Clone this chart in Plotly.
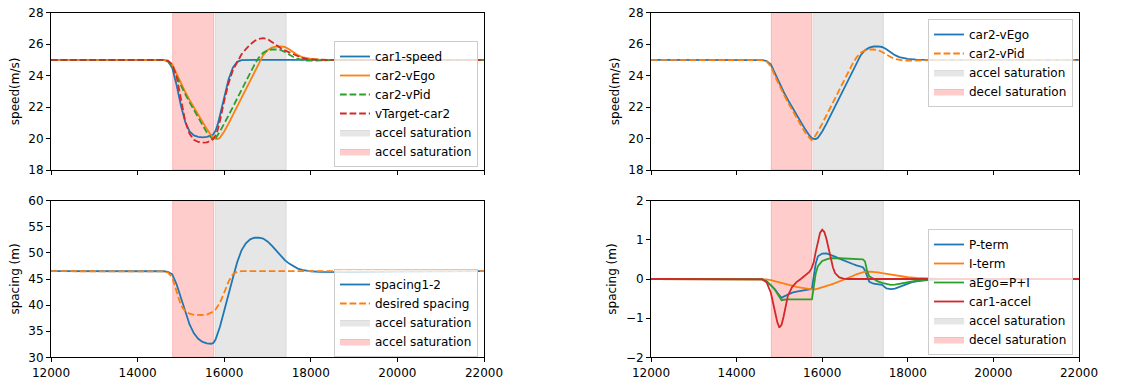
import plotly.graph_objects as go

# ---------------- data ----------------
T_RANGE = [12000, 22000]
X_TICKS = [12000, 14000, 16000, 18000, 20000, 22000]
X_TICK_LABELS = ["12000", "14000", "16000", "18000", "20000", "22000"]
SPEED_TICKS = [18, 20, 22, 24, 26, 28]
SPACING_TICKS = [30, 35, 40, 45, 50, 55, 60]
ACCEL_TICKS = [-2, -1, 0, 1, 2]
SPEED_RANGE = [18, 28]
SPACING_RANGE = [30, 60]
ACCEL_RANGE = [-2, 2]

DECEL_BAND = [14810, 15760]   # red shaded span
ACCEL_BAND = [15800, 17430]   # grey shaded span

# common time grid for speed / spacing series
t = [12000, 14000, 14400, 14500, 14600, 14700, 14800, 14900,
     15000, 15100, 15200, 15300, 15400, 15500, 15600, 15700, 15750, 15800, 15850, 15900,
     16000, 16100, 16200, 16300, 16400, 16500, 16600, 16700, 16800, 16900,
     17000, 17100, 17200, 17300, 17400, 17500, 17600, 17700, 17800, 17900,
     18000, 18200, 18400, 18600, 19000, 20000, 22000]

car1_speed = [25, 25, 25, 25, 25, 24.92, 24.5, 23.4,
              22.1, 21.05, 20.45, 20.2, 20.1, 20.08, 20.1, 20.18, 20.27, 20.5, 20.9, 21.45,
              22.65, 23.75, 24.5, 24.88, 24.98, 25, 25, 25, 25, 25,
              25, 25, 25, 25, 25, 25, 25, 25, 25, 25,
              25, 25, 25, 25, 25, 25, 25]

car2_vEgo = [25, 25, 25, 25, 24.99, 24.93, 24.72, 24.12,
             23.5, 22.96, 22.45, 21.98, 21.5, 21.05, 20.6, 20.2, 20.05, 19.98, 19.97, 20.05,
             20.45, 20.95, 21.5, 22.05, 22.6, 23.15, 23.7, 24.25, 24.8, 25.3,
             25.62, 25.78, 25.85, 25.86, 25.82, 25.68, 25.48, 25.3, 25.18, 25.1,
             25.06, 25.02, 25.0, 25, 25, 25, 25]

car2_vPid = [25, 25, 25, 25, 24.98, 24.9, 24.6, 23.95,
             23.35, 22.82, 22.3, 21.8, 21.3, 20.82, 20.38, 20.05, 19.9, 20.0, 20.2, 20.45,
             20.95, 21.45, 22.0, 22.55, 23.1, 23.65, 24.2, 24.7, 25.15, 25.45,
             25.6, 25.66, 25.66, 25.63, 25.5, 25.33, 25.18, 25.06, 24.99, 24.96,
             24.95, 24.95, 24.97, 24.99, 25, 25, 25]

vTarget_car2 = [25, 25, 25, 25, 25, 24.95, 24.72, 23.95,
                22.45, 21.1, 20.3, 19.92, 19.78, 19.74, 19.76, 19.88, 20.0, 20.2, 20.55, 21.1,
                22.4, 23.5, 24.35, 24.9, 25.35, 25.68, 25.98, 26.2, 26.33, 26.38,
                26.32, 26.14, 25.93, 25.76, 25.6, 25.47, 25.33, 25.21, 25.12, 25.06,
                25.03, 25.01, 25, 25, 25, 25, 25]

spacing_1_2 = [46.5, 46.5, 46.5, 46.5, 46.48, 46.35, 45.9, 44.0,
               41.4, 38.6, 36.3, 34.6, 33.55, 32.95, 32.65, 32.6, 32.75, 33.4, 34.5, 35.8,
               38.9, 42.3, 45.2, 48.2, 50.5, 51.85, 52.6, 52.9, 52.92, 52.75,
               52.2, 51.4, 50.4, 49.45, 48.6, 47.95, 47.4, 47.0, 46.75, 46.58,
               46.48, 46.38, 46.33, 46.3, 46.3, 46.4, 46.5]

desired_spacing = [46.5, 46.5, 46.5, 46.5, 46.45, 46.25, 45.3, 42.6,
                   40.0, 38.8, 38.35, 38.15, 38.1, 38.1, 38.2, 38.5, 38.75, 39.15, 39.7, 40.4,
                   42.4, 44.5, 45.9, 46.4, 46.5, 46.5, 46.5, 46.5, 46.5, 46.5,
                   46.5, 46.5, 46.5, 46.5, 46.5, 46.5, 46.5, 46.5, 46.5, 46.5,
                   46.5, 46.5, 46.5, 46.5, 46.5, 46.5, 46.5]

p_t = [12000, 14400, 14500, 14600, 14700, 14800, 14900, 15000, 15050, 15100,
       15200, 15300, 15400, 15500, 15600, 15700, 15760, 15800, 15850, 15900,
       16000, 16100, 16200, 16300, 16400, 16500, 16600, 16700, 16800, 16900,
       16950, 17000, 17050, 17100, 17200, 17300, 17400, 17500, 17550, 17600,
       17700, 17800, 17900, 18000, 18100, 18200, 18400, 18600, 18800, 22000]
p_term = [0, 0, 0, -0.005, -0.05, -0.15, -0.27, -0.42, -0.48, -0.45,
          -0.39, -0.35, -0.32, -0.3, -0.28, -0.265, -0.255, 0.05, 0.4, 0.58,
          0.65, 0.655, 0.62, 0.57, 0.52, 0.47, 0.43, 0.39, 0.35, 0.32,
          0.3, 0.22, 0.05, -0.07, -0.12, -0.13, -0.15, -0.24, -0.26, -0.26,
          -0.245, -0.2, -0.15, -0.11, -0.08, -0.06, -0.03, -0.01, 0, 0]

i_t = [12000, 14500, 14600, 14700, 14800, 14900, 15000, 15100, 15200, 15300,
       15400, 15500, 15600, 15700, 15780, 15800, 15900, 16000, 16100, 16200,
       16300, 16400, 16500, 16600, 16700, 16800, 16900, 17000, 17100, 17200,
       17300, 17400, 17500, 17600, 17700, 17800, 17900, 18000, 18200, 18400,
       18600, 18800, 22000]
i_term = [0, 0, -0.003, -0.01, -0.03, -0.06, -0.09, -0.12, -0.15, -0.175,
          -0.2, -0.22, -0.24, -0.26, -0.275, -0.272, -0.245, -0.215, -0.18, -0.145,
          -0.105, -0.065, -0.025, 0.02, 0.07, 0.12, 0.16, 0.185, 0.19, 0.185,
          0.17, 0.15, 0.13, 0.11, 0.09, 0.075, 0.06, 0.045, 0.025, 0.012,
          0.005, 0, 0]

a_t = [12000, 14500, 14600, 14700, 14800, 14900, 15000, 15050, 15100, 15200,
       15760, 15800, 15850, 15900, 16000, 16100, 16200, 16400, 16700, 16950,
       17000, 17050, 17100, 17200, 17300, 17400, 17500, 17600, 17700, 17800,
       17900, 18000, 18200, 18400, 18600, 18800, 22000]
a_ego = [0, 0, -0.01, -0.07, -0.16, -0.28, -0.45, -0.54, -0.53, -0.52,
         -0.52, -0.2, 0.15, 0.33, 0.46, 0.5, 0.53, 0.53, 0.52, 0.5,
         0.45, 0.2, 0.07, 0.0, -0.06, -0.1, -0.13, -0.15, -0.145, -0.125,
         -0.1, -0.08, -0.045, -0.02, -0.008, 0, 0]

c1a_t = [12000, 14500, 14600, 14700, 14800, 14900, 14950, 15000, 15050, 15100,
         15150, 15200, 15300, 15400, 15500, 15600, 15700, 15750, 15800, 15850,
         15900, 15950, 16000, 16050, 16100, 16150, 16200, 16250, 16300, 16400,
         16500, 16600, 22000]
car1_accel = [0, 0, -0.01, -0.08, -0.35, -0.85, -1.1, -1.24, -1.17, -0.95,
              -0.65, -0.42, -0.2, -0.08, 0.0, 0.08, 0.18, 0.27, 0.42, 0.7,
              0.97, 1.18, 1.26, 1.2, 1.02, 0.78, 0.52, 0.3, 0.15, 0.04,
              0.01, 0, 0]

# ---------------- styling ----------------
BLUE, ORANGE, GREEN, RED = "#1f77b4", "#ff7f0e", "#2ca02c", "#d62728"
GREY_FILL = "rgba(128,128,128,0.2)"
RED_FILL = "rgba(255,0,0,0.2)"
FONT = "DejaVu Sans"
LW = 1.8
DASH = "6.7px,2.9px"
W, H = 1148, 385

fig = go.Figure()


def line(x, y, name, color, legend, ax, dash="solid", rank=1):
    xa, ya = ax
    fig.add_trace(go.Scatter(x=x, y=y, name=name, mode="lines",
                             line=dict(color=color, width=LW, dash=dash),
                             legend=legend, legendrank=rank,
                             xaxis=xa, yaxis=ya, hoverinfo="skip"))


def band(span, yr, color, name, legend, ax, rank):
    xa, ya = ax
    x0, x1 = span
    fig.add_trace(go.Scatter(x=[x0, x0, x1, x1, x0], y=[yr[0], yr[1], yr[1], yr[0], yr[0]],
                             name=name, mode="lines", fill="toself", fillcolor=color,
                             line=dict(color=color, width=1),
                             legend=legend, legendrank=rank,
                             xaxis=xa, yaxis=ya, hoverinfo="skip"))


TL, TR, BL, BR = ("x", "y"), ("x2", "y2"), ("x3", "y3"), ("x4", "y4")

# top-left
band(ACCEL_BAND, SPEED_RANGE, GREY_FILL, "accel saturation", "legend", TL, 20)
band(DECEL_BAND, SPEED_RANGE, RED_FILL, "accel saturation", "legend", TL, 21)
line(t, car1_speed, "car1-speed", BLUE, "legend", TL, rank=1)
line(t, car2_vEgo, "car2-vEgo", ORANGE, "legend", TL, rank=2)
line(t, car2_vPid, "car2-vPid", GREEN, "legend", TL, DASH, rank=3)
line(t, vTarget_car2, "vTarget-car2", RED, "legend", TL, DASH, rank=4)

# top-right
band(ACCEL_BAND, SPEED_RANGE, GREY_FILL, "accel saturation", "legend2", TR, 20)
band(DECEL_BAND, SPEED_RANGE, RED_FILL, "decel saturation", "legend2", TR, 21)
line(t, car2_vEgo, "car2-vEgo", BLUE, "legend2", TR, rank=1)
line(t, car2_vPid, "car2-vPid", ORANGE, "legend2", TR, DASH, rank=2)

# bottom-left
band(ACCEL_BAND, SPACING_RANGE, GREY_FILL, "accel saturation", "legend3", BL, 20)
band(DECEL_BAND, SPACING_RANGE, RED_FILL, "accel saturation", "legend3", BL, 21)
line(t, spacing_1_2, "spacing1-2", BLUE, "legend3", BL, rank=1)
line(t, desired_spacing, "desired spacing", ORANGE, "legend3", BL, DASH, rank=2)

# bottom-right
band(ACCEL_BAND, ACCEL_RANGE, GREY_FILL, "accel saturation", "legend4", BR, 20)
band(DECEL_BAND, ACCEL_RANGE, RED_FILL, "decel saturation", "legend4", BR, 21)
line(p_t, p_term, "P-term", BLUE, "legend4", BR, rank=1)
line(i_t, i_term, "I-term", ORANGE, "legend4", BR, rank=2)
line(a_t, a_ego, "aEgo=P+I", GREEN, "legend4", BR, rank=3)
line(c1a_t, car1_accel, "car1-accel", RED, "legend4", BR, rank=4)

XL = [51 / W, 484 / W]
XR = [651 / W, 1079 / W]
YT = [1 - 170 / H, 1 - 12.7 / H]
YB = [1 - 357.3 / H, 1 - 200.7 / H]

common_axis = dict(showline=True, mirror=True, linecolor="black", linewidth=1,
                   ticks="outside", ticklen=4, tickwidth=1, tickcolor="black",
                   showgrid=False, zeroline=False, automargin=False,
                   tickfont=dict(family=FONT, size=12, color="black"))


def xax(domain, anchor, labels):
    return dict(common_axis, domain=domain, anchor=anchor, range=T_RANGE,
                tickmode="array", tickvals=X_TICKS, ticktext=X_TICK_LABELS,
                showticklabels=labels)


def yax(domain, anchor, rng, ticks, title):
    return dict(common_axis, domain=domain, anchor=anchor, range=rng,
                tickmode="array", tickvals=ticks,
                title=dict(text=title, standoff=6, font=dict(family=FONT, size=12, color="black")))


def leg(xr, ytop):
    return dict(x=xr, y=ytop, xanchor="right", yanchor="top",
                bgcolor="rgba(255,255,255,0.8)", bordercolor="#cccccc", borderwidth=1,
                font=dict(family=FONT, size=12, color="black"))


fig.update_layout(
    width=W, height=H, template="none",
    margin=dict(l=0, r=0, t=0, b=0),
    paper_bgcolor="white", plot_bgcolor="white",
    font=dict(family=FONT, size=12, color="black"),
    xaxis=xax(XL, "y", False), yaxis=yax(YT, "x", SPEED_RANGE, SPEED_TICKS, "speed(m/s)"),
    xaxis2=xax(XR, "y2", False), yaxis2=yax(YT, "x2", SPEED_RANGE, SPEED_TICKS, "speed(m/s)"),
    xaxis3=xax(XL, "y3", True), yaxis3=yax(YB, "x3", SPACING_RANGE, SPACING_TICKS, "spacing (m)"),
    xaxis4=xax(XR, "y4", True), yaxis4=yax(YB, "x4", ACCEL_RANGE, ACCEL_TICKS, "spacing (m)"),
    legend=leg(478 / W, 1 - 41 / H),
    legend2=leg(1073 / W, 1 - 19 / H),
    legend3=leg(478 / W, 1 - 269 / H),
    legend4=leg(1073 / W, 1 - 229 / H),
    showlegend=True,
)

fig.write_html("out.html")
